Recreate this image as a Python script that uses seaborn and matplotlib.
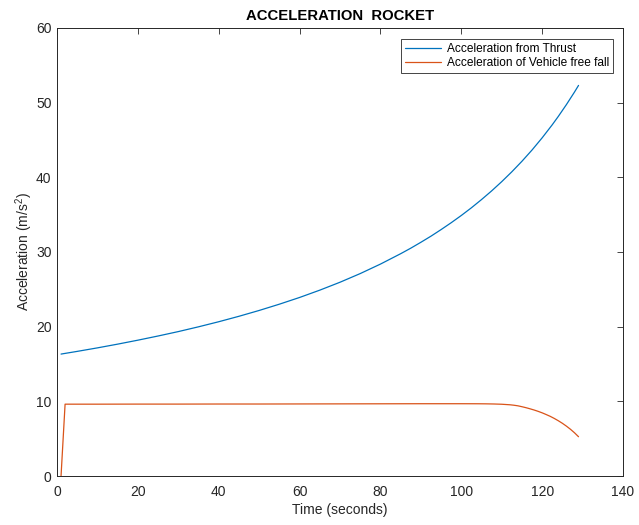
import matplotlib
matplotlib.use("Agg")
import matplotlib.pyplot as plt
import seaborn as sns
import pandas as pd

# Thrust acceleration over the burn (s, m/s^2)
thrust_time = [1, 5, 10, 15, 20, 25, 30, 35, 40, 45, 50, 55, 60, 65, 70,
               75, 80, 85, 87.5, 90, 92.5, 95, 97.5, 100, 102.5, 105, 107.5,
               110, 112.5, 115, 117.5, 120, 122.5, 124, 126, 128, 129]
thrust_acc = [16.33, 16.69, 17.16, 17.66, 18.19, 18.75, 19.34, 19.98, 20.66,
              21.39, 22.17, 23.01, 23.91, 24.89, 25.95, 27.11, 28.38, 29.77,
              30.51, 31.30, 32.12, 33.00, 33.92, 34.89, 35.92, 37.02, 38.18,
              39.42, 40.74, 42.15, 43.66, 45.29, 47.04, 48.16, 49.74, 51.42,
              52.31]

# Free-fall acceleration of the vehicle (s, m/s^2)
fall_time = [1, 2, 10, 20, 30, 40, 50, 60, 70, 80, 90, 100, 104, 106, 108,
             110, 112, 113, 114, 115, 116, 117, 118, 119, 120, 121, 122, 123,
             124, 125, 126, 127, 128, 129]
fall_acc = [0.0, 9.62, 9.62, 9.63, 9.63, 9.64, 9.64, 9.65, 9.66, 9.67, 9.68,
            9.68, 9.675, 9.665, 9.645, 9.61, 9.54, 9.48, 9.40, 9.28, 9.15,
            9.00, 8.84, 8.66, 8.46, 8.23, 7.99, 7.71, 7.40, 7.06, 6.68, 6.26,
            5.79, 5.26]

x_ticks = [0, 20, 40, 60, 80, 100, 120, 140]
y_ticks = [0, 10, 20, 30, 40, 50, 60]

thrust = pd.DataFrame({"t": thrust_time, "a": thrust_acc})
fall = pd.DataFrame({"t": fall_time, "a": fall_acc})

sns.set_style("white")
plt.rcParams["font.family"] = ["Liberation Sans", "DejaVu Sans"]
plt.rcParams["mathtext.fontset"] = "custom"
plt.rcParams["mathtext.rm"] = "Liberation Sans"
plt.rcParams["mathtext.it"] = "Liberation Sans"

ink = "#262626"
fig = plt.figure(figsize=(6.39, 5.25), dpi=100)
ax = fig.add_axes([57 / 639, 1 - 476 / 525, 566 / 639, 448 / 525])

sns.lineplot(data=thrust, x="t", y="a", ax=ax, color="#0072BD", linewidth=0.9,
             label="Acceleration from Thrust")
sns.lineplot(data=fall, x="t", y="a", ax=ax, color="#D95319", linewidth=0.9,
             label="Acceleration of Vehicle free fall")

ax.set_xlim(0, 140)
ax.set_ylim(0, 60)
ax.set_xticks(x_ticks)
ax.set_yticks(y_ticks)
ax.tick_params(direction="in", length=4.5, width=0.6, colors=ink,
               labelsize=10, top=True, right=True)
ax.tick_params(axis="x", pad=6.5)
ax.tick_params(axis="y", pad=4)
for side in ax.spines.values():
    side.set_visible(True)
    side.set_color(ink)
    side.set_linewidth(0.7)

ax.set_xlabel("Time (seconds)", fontsize=10, color=ink, labelpad=3)
ax.set_ylabel("Acceleration (m/s$^2$)", fontsize=10, color=ink, labelpad=0.5)
ax.set_title("ACCELERATION  ROCKET", fontsize=10.7, fontweight="bold",
             color="black", pad=6)

leg = ax.legend(loc="upper right", bbox_to_anchor=(0.9823, 0.9754),
                borderaxespad=0, fontsize=8.6, handlelength=3.0,
                handletextpad=0.45, labelspacing=0.14, borderpad=0.35,
                fancybox=False, framealpha=1, edgecolor=ink)
leg.get_frame().set_linewidth(0.6)
for txt in leg.get_texts():
    txt.set_color("black")

fig.savefig("out.png", dpi=100, facecolor="white")
